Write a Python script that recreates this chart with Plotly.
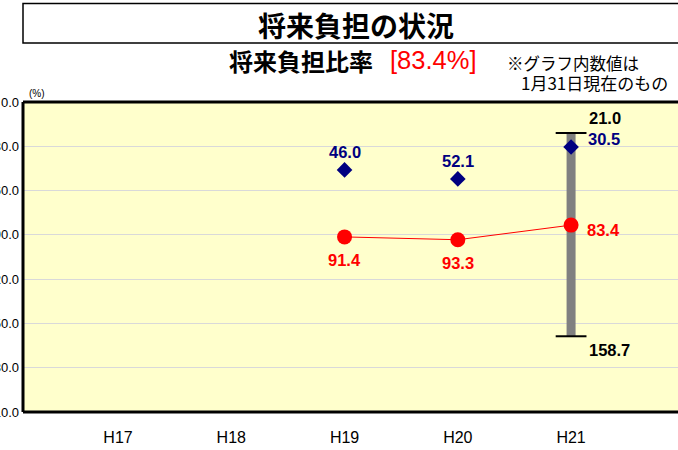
import plotly.graph_objects as go

# ---- data ----
categories = ["H17", "H18", "H19", "H20", "H21"]
ratio_x = ["H19", "H20", "H21"]
ratio_values = [91.4, 93.3, 83.4]          # 将来負担比率 (red line)
avg_x = ["H19", "H20", "H21"]
avg_values = [46.0, 52.1, 30.5]            # blue diamonds
range_x = "H21"
range_min = 21.0
range_max = 158.7
y_ticks = [0, 30, 60, 90, 120, 150, 180, 210]
y_tick_labels = ["0.0", "30.0", "60.0", "90.0", "120.0", "150.0", "180.0", "210.0"]

NARROW = "Liberation Sans Narrow, Arial Narrow, Liberation Sans, sans-serif"
JP = "Noto Sans CJK JP, sans-serif"

W, H = 678, 450
L, R, T, B = 23, 0, 102, 38
ph = H - T - B
pw = W - L - R

def py(ys):   # screen y -> paper y
    return (H - B - ys) / ph

def pxx(xs):  # screen x -> paper x
    return (xs - L) / pw

fig = go.Figure()

# gray range bar
fig.add_trace(go.Scatter(
    x=[range_x, range_x], y=[range_min, range_max], mode="lines",
    line=dict(color="#808080", width=9), hoverinfo="skip", showlegend=False))
# caps
fig.add_trace(go.Scatter(
    x=[range_x, range_x], y=[range_min, range_max], mode="markers",
    marker=dict(symbol="line-ew", size=22, line=dict(color="black", width=2)),
    hoverinfo="skip", showlegend=False))
# red line
fig.add_trace(go.Scatter(
    x=ratio_x, y=ratio_values, mode="lines+markers",
    line=dict(color="#FF0000", width=1),
    marker=dict(symbol="circle", size=15, color="#FF0000"),
    showlegend=False))
# blue diamonds
fig.add_trace(go.Scatter(
    x=avg_x, y=avg_values, mode="markers",
    marker=dict(symbol="diamond", size=12, color="#000080"),
    showlegend=False))

ann = []
lab_font = lambda c: dict(family=NARROW, size=16.5, color=c)
for i, (xv, yv) in enumerate(zip(ratio_x, ratio_values)):
    if i < len(ratio_x) - 1:
        ann.append(dict(x=xv, y=yv, text=f"<b>{yv:.1f}</b>", showarrow=False,
                        yshift=-23, font=lab_font("#FF0000")))
    else:
        ann.append(dict(x=xv, y=yv, text=f"<b>{yv:.1f}</b>", showarrow=False,
                        xanchor="left", xshift=14, yshift=-5, font=lab_font("#FF0000")))
for i, (xv, yv) in enumerate(zip(avg_x, avg_values)):
    if i < len(avg_x) - 1:
        ann.append(dict(x=xv, y=yv, text=f"<b>{yv:.1f}</b>", showarrow=False,
                        yshift=18, font=lab_font("#000080")))
    else:
        ann.append(dict(x=xv, y=yv, text=f"<b>{yv:.1f}</b>", showarrow=False,
                        xanchor="left", xshift=15, yshift=8, font=lab_font("#000080")))
ann.append(dict(x=range_x, y=range_min, text=f"<b>{range_min:.1f}</b>", showarrow=False,
                xanchor="left", xshift=16, yshift=15, font=lab_font("black")))
ann.append(dict(x=range_x, y=range_max, text=f"<b>{range_max:.1f}</b>", showarrow=False,
                xanchor="left", xshift=16, yshift=-14, font=lab_font("black")))

def pann(xs, ys, text, font, xanchor="center"):
    ann.append(dict(xref="paper", yref="paper", x=pxx(xs), y=py(ys), text=text,
                    showarrow=False, xanchor=xanchor, yanchor="middle", font=font))

pann(356, 24.5, "<b>将来負担の状況</b>", dict(family=JP, size=28, color="black"))
pann(375, 60.5, "<b>将来負担比率</b>", dict(family=JP, size=24, color="black"), "right")
pann(388, 60, "[83.4%]", dict(family=NARROW, size=25.5, color="#FF0000"), "left")
pann(505, 63.5, "※グラフ内数値は", dict(family=JP, size=16.5, color="black"), "left")
pann(519, 82, "1月31日現在のもの", dict(family=JP, size=17, color="black"), "left")
pann(27, 94, "(%)", dict(family=NARROW, size=10, color="black"), "left")

shapes = [
    # title box
    dict(type="rect", xref="paper", yref="paper", x0=0, x1=1.05, y0=py(43), y1=py(3.5),
         line=dict(color="black", width=1.5), fillcolor="rgba(0,0,0,0)"),
    # plot borders: left, top, bottom
    dict(type="line", xref="paper", yref="paper", x0=0, x1=0, y0=0, y1=1,
         line=dict(color="black", width=3)),
    dict(type="line", xref="paper", yref="paper", x0=0, x1=1.05, y0=1, y1=1,
         line=dict(color="black", width=3)),
    dict(type="line", xref="paper", yref="paper", x0=0, x1=1.05, y0=0, y1=0,
         line=dict(color="black", width=3)),
]

fig.update_layout(
    width=W, height=H,
    margin=dict(l=L, r=R, t=T, b=B, pad=0, autoexpand=False),
    paper_bgcolor="white", plot_bgcolor="#FFFFCC",
    annotations=ann, shapes=shapes, showlegend=False,
    xaxis=dict(type="category", categoryorder="array", categoryarray=categories,
               range=[-0.839, 4.944], showgrid=False, zeroline=False, showline=False,
               automargin=False,
               ticks="outside", ticklen=11, tickcolor="rgba(0,0,0,0)",
               tickfont=dict(family=NARROW, size=16, color="black"),
               fixedrange=True),
    yaxis=dict(range=[210, 0], tickvals=y_ticks, ticktext=y_tick_labels,
               showgrid=True, gridcolor="#D9D9D9", gridwidth=1, zeroline=False,
               showline=False, ticks="", automargin=False, ticklabelstandoff=3,
               tickfont=dict(family="Liberation Sans, Arial, sans-serif", size=13, color="black"),
               fixedrange=True),
)

fig.write_html("out.html", config={"displayModeBar": False},
               post_script="document.body.style.margin='0';document.body.style.overflow='hidden';")
